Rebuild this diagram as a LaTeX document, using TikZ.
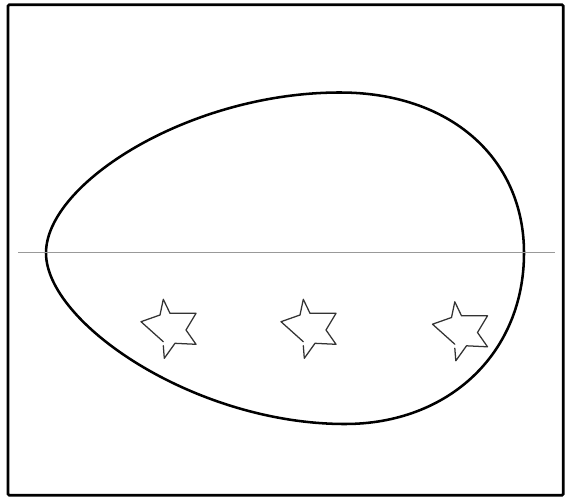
\documentclass[tikz,border=0pt]{standalone}
\usepackage{tikz}
\usetikzlibrary{positioning, calc}

\begin{document}
\begin{tikzpicture}[
  x=0.025cm, y=-0.025cm,
  frame/.style    = {draw=black, line width=1.9pt, rounded corners=1pt},
  eggline/.style  = {draw=black, line width=1.8pt},
  axisline/.style = {draw=black!40, line width=0.7pt},
  starline/.style = {draw=black!80, line width=0.9pt, line join=round, line cap=round}
]
\useasboundingbox (0,0) rectangle (576,498);
\draw[frame] (8,4.7) rectangle (563.3,495.3);

\coordinate (eggL) at (46,253);
\coordinate (eggT) at (340,92.5);
\coordinate (eggR) at (524,253);
\coordinate (eggB) at (345,424);

\draw[eggline] (eggL) .. controls (46,183) and (190,92.5) .. (eggT)
  .. controls (450,92.5) and (524,158) .. (eggR)
  .. controls (524,353) and (449,424) .. (eggB)
  .. controls (195,424) and (46,323) .. cycle;

\coordinate (axisW) at (18,252.5);
\coordinate (axisE) at (555,252.5);
\draw[axisline] (axisW) -- (axisE);

\coordinate (star1) at (170,328);
\coordinate (star2) at (310,328);
\coordinate (star3) at (461.5,330.5);

\foreach \s in {star1,star2,star3}
  \draw[starline, shift={(\s)}] (-6.7,13.7) -- (-29,-6.3) -- (-10,-13) -- (-6.7,-28.7)
    -- (0,-14.7) -- (26,-14.7) -- (16,2) -- (26,16.3) -- (5,15.3)
    -- (-5.7,30.3) -- (-6.7,17.7);
\end{tikzpicture}
\end{document}
